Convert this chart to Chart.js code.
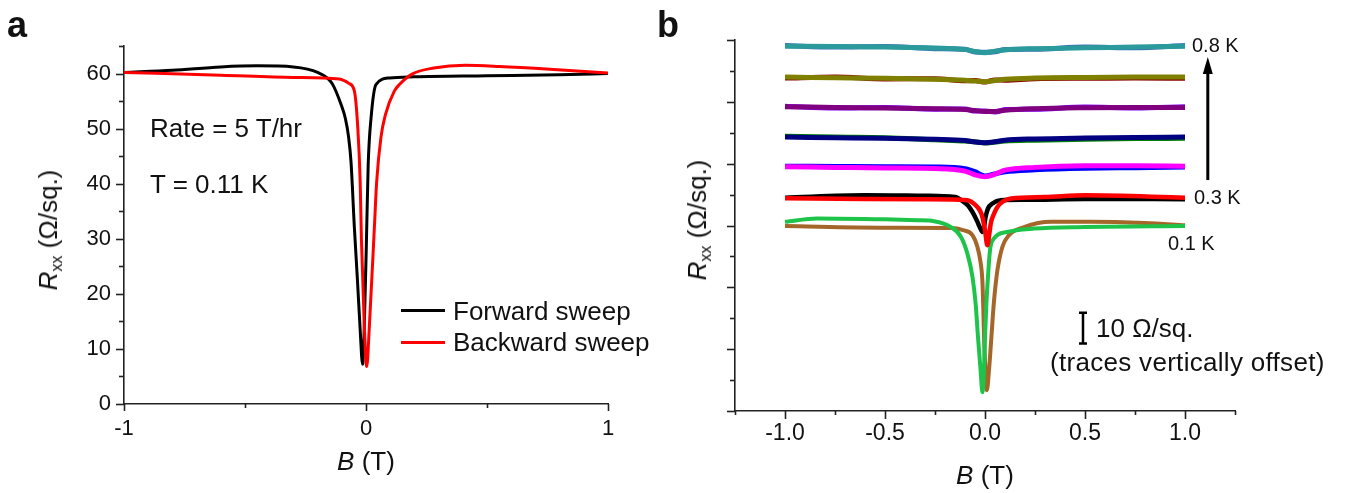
<!DOCTYPE html>
<html>
<head>
<meta charset="utf-8">
<script src="https://cdn.jsdelivr.net/npm/chart.js@4.4.1/dist/chart.umd.min.js"></script>
<style>
  body { margin: 0; background: #fff; }
  #wrap { position: relative; width: 1349px; height: 493px; overflow: hidden; background: #fff;
          font-family: 'Liberation Sans', Arial, sans-serif; color: #111; }
  canvas { position: absolute; top: 0; }
  #chartA { left: 0; }
  #chartB { left: 650px; }
  .t { position: absolute; line-height: 1; white-space: nowrap; z-index: 2; }
  .mid { transform: translateY(-50%); }
  .ctr { transform: translate(-50%, -50%); }
  .rot { transform: translate(-50%, -50%) rotate(-90deg); }
  .panel { font-weight: bold; font-size: 36px; }
  .big { font-size: 26px; }
  .small { font-size: 20px; }
  .sub { font-size: 0.62em; position: relative; top: 0.28em; }
  .swatch { position: absolute; width: 44px; height: 3px; z-index: 2; }
</style>
</head>
<body>
<div id="wrap">
  <canvas id="chartA" width="650" height="493"></canvas>
  <canvas id="chartB" width="699" height="493"></canvas>

  <div class="t panel mid" style="left:7px;top:25px">a</div>
  <div class="t panel mid" style="left:657px;top:25px">b</div>

  <!-- panel a text -->
  <div class="t big mid" style="left:150px;top:128px">Rate = 5 T/hr</div>
  <div class="t big mid" style="left:150px;top:184px">T = 0.11 K</div>
  <div class="swatch" style="left:401px;top:309px;background:#000"></div>
  <div class="swatch" style="left:401px;top:341px;background:#f00"></div>
  <div class="t big mid" style="left:453px;top:311px">Forward sweep</div>
  <div class="t big mid" style="left:453px;top:342px">Backward sweep</div>
  <div class="t big ctr" style="left:366px;top:461px"><i>B</i> (T)</div>
  <div class="t big rot" style="left:48px;top:230px"><i>R</i><span class="sub">xx</span> (Ω/sq.)</div>

  <!-- panel b text -->
  <div class="t small mid" style="left:1192px;top:45px">0.8 K</div>
  <div class="t small mid" style="left:1194px;top:197px">0.3 K</div>
  <div class="t small mid" style="left:1168px;top:243px">0.1 K</div>
  <div class="t big mid" style="left:1096px;top:328px">10 Ω/sq.</div>
  <div class="t big mid" style="left:1050px;top:362px;letter-spacing:0.3px">(traces vertically offset)</div>
  <div class="t big ctr" style="left:985px;top:475px"><i>B</i> (T)</div>
  <div class="t big rot" style="left:697px;top:220px"><i>R</i><span class="sub">xx</span> (Ω/sq.)</div>
</div>

<script>
// ---- panel a: sweep direction at T = 0.11 K ----
const fwdField = [-1, -0.8, -0.6, -0.45, -0.3, -0.2, -0.14, -0.1, -0.085, -0.072, -0.062, -0.048, -0.036,
  -0.025, -0.014, -0.007, 0.002, 0.009, 0.021, 0.041, 0.097, 0.2, 0.5, 0.8, 1];
const fwdRxx = [60.2, 60.6, 61.2, 61.4, 61.2, 60.2, 58.2, 54.0, 51.8, 48.5, 44.0, 32.0, 23.0,
  14.2, 7.2, 14.2, 30.0, 43.4, 52.0, 58.0, 59.2, 59.4, 59.6, 59.8, 60.0];
const bwdField = [-1, -0.6, -0.3, -0.11, -0.07, -0.048, -0.034, -0.024, -0.019, -0.007, 0.003, 0.014,
  0.035, 0.044, 0.062, 0.08, 0.117, 0.138, 0.19, 0.28, 0.41, 0.55, 0.76, 1];
const bwdRxx = [60.2, 59.7, 59.3, 59.0, 58.2, 56.8, 50.2, 40.3, 30.0, 14.2, 6.8, 14.2,
  32.4, 40.3, 48.5, 52.5, 56.8, 58.0, 59.9, 61.0, 61.5, 61.3, 60.8, 60.1];

// ---- panel b: temperature series (offset traces, arbitrary zero) ----
const flatField = [-1, -0.75, -0.5, -0.25, -0.1, -0.05, 0, 0.05, 0.1, 0.25, 0.5, 0.75, 1];
const teal08 = [118.0, 117.9, 117.7, 117.4, 116.9, 116.3, 115.9, 116.4, 116.8, 117.2, 117.5, 117.7, 118.0];
const blue08 = [118.2, 117.7, 117.9, 117.2, 117.0, 116.1, 116.0, 116.2, 116.9, 117.0, 117.7, 117.5, 118.2];
const olive07 = [108.0, 107.8, 107.6, 107.3, 107.0, 106.7, 106.5, 106.9, 107.3, 107.7, 107.9, 108.0, 108.0];
const maroon07 = [107.7, 108.0, 107.4, 107.5, 106.8, 106.9, 106.4, 107.1, 107.0, 107.5, 107.6, 107.7, 107.6];
const purple06 = [98.4, 98.2, 98.0, 97.8, 97.5, 97.2, 96.9, 96.9, 97.3, 97.8, 98.1, 98.2, 98.2];
const violet06 = [98.6, 98.0, 98.2, 97.6, 97.7, 97.0, 97.0, 96.7, 97.5, 97.6, 98.3, 98.0, 98.4];
const navy05 = [88.6, 88.4, 88.2, 87.9, 87.5, 87.0, 86.8, 87.1, 87.6, 88.0, 88.3, 88.5, 88.6];
const green05 = [88.9, 88.6, 88.4, 87.7, 87.3, 87.1, 86.7, 87.0, 87.3, 87.6, 87.9, 88.1, 88.2];
const magenta04 = [79.0, 78.8, 78.6, 78.4, 77.6, 76.4, 75.8, 76.6, 77.9, 78.8, 79.3, 79.3, 79.2];
const blue04 = [79.2, 79.1, 79.0, 78.9, 78.4, 77.4, 76.0, 76.7, 77.4, 78.0, 78.5, 78.7, 78.9];

const black03Field = [-1, -0.6, -0.3, -0.15, -0.11, -0.085, -0.063, -0.04, -0.025, -0.013, -0.005, 0.003,
  0.015, 0.037, 0.078, 0.2, 0.5, 1];
const black03 = [69.0, 69.8, 69.6, 69.2, 67.8, 66.5, 64.4, 61.5, 59.3, 57.9, 59.5, 62.8,
  65.5, 67.1, 68.2, 68.3, 68.6, 68.5];
const red03Field = [-1, -0.6, -0.3, -0.088, -0.047, -0.025, -0.013, 0, 0.012, 0.022, 0.029, 0.045,
  0.062, 0.09, 0.13, 0.3, 0.5, 1];
const red03 = [68.8, 68.6, 68.5, 68.2, 66.6, 64.8, 62.8, 58.5, 53.6, 57.5, 60.7, 63.8,
  66.0, 67.8, 68.7, 69.2, 69.8, 69.0];

const green01Field = [-1, -0.84, -0.5, -0.34, -0.255, -0.17, -0.12, -0.088, -0.063, -0.047, -0.035, -0.022,
  -0.013, -0.005, 0, 0.007, 0.015, 0.025, 0.045, 0.11, 0.245, 0.5, 1];
const green01 = [61.2, 62.3, 62.0, 61.7, 61.4, 59.5, 56.3, 50.9, 43.5, 34.8, 23.9, 13.2,
  6.1, 13.2, 23.9, 34.8, 43.5, 52.0, 55.8, 57.9, 59.0, 59.5, 59.8];
const brown01Field = [-1, -0.5, -0.17, -0.11, -0.063, -0.038, -0.022, -0.013, -0.008, -0.004, 0.003, 0.009,
  0.02, 0.032, 0.044, 0.062, 0.087, 0.12, 0.195, 0.33, 0.53, 0.8, 1];
const brown01 = [59.8, 59.3, 59.2, 58.5, 56.9, 53.1, 48.0, 42.0, 32.0, 22.0, 12.5, 6.7,
  13.2, 23.9, 34.8, 45.5, 53.1, 56.9, 59.5, 61.2, 61.2, 60.8, 60.1];

const FONT = "'Liberation Sans', Arial, sans-serif";
Chart.defaults.font.family = FONT;
Chart.defaults.color = '#111';

const pts = (xs, ys) => xs.map((x, i) => ({ x, y: ys[i] }));

// draws outward major/minor tick marks from the scales' own ticks
const tickMarks = {
  id: 'tickMarks',
  afterDraw(chart, args, opts) {
    const { ctx } = chart;
    ctx.save();
    ctx.strokeStyle = opts.color;
    ctx.lineWidth = opts.width;
    ['x', 'y'].forEach(id => {
      const scale = chart.scales[id];
      const o = opts[id];
      scale.ticks.forEach(t => {
        const r = t.value / o.major;
        const len = Math.abs(r - Math.round(r)) < 1e-6 ? o.majorLen : o.minorLen;
        const p = Math.round(scale.getPixelForValue(t.value)) + 0.5;
        ctx.beginPath();
        if (id === 'x') {
          ctx.moveTo(p, scale.top);
          ctx.lineTo(p, scale.top + len);
        } else {
          ctx.moveTo(scale.right, p);
          ctx.lineTo(scale.right - len, p);
        }
        ctx.stroke();
      });
    });
    ctx.restore();
  }
};

// arrow and 10 Ω scale bar for panel b
const markers = {
  id: 'markers',
  afterDatasetsDraw(chart, args, opts) {
    if (!opts.arrow) return;
    const { ctx } = chart;
    const xs = chart.scales.x;
    const ys = chart.scales.y;
    ctx.save();
    ctx.strokeStyle = '#000';
    ctx.fillStyle = '#000';
    // arrow
    const ax = xs.getPixelForValue(opts.arrow.x);
    const a0 = ys.getPixelForValue(opts.arrow.from);
    const a1 = ys.getPixelForValue(opts.arrow.to);
    ctx.lineWidth = 3;
    ctx.beginPath();
    ctx.moveTo(ax, a0);
    ctx.lineTo(ax, a1 + 14);
    ctx.stroke();
    ctx.beginPath();
    ctx.moveTo(ax, a1);
    ctx.lineTo(ax - 5, a1 + 17);
    ctx.lineTo(ax + 5, a1 + 17);
    ctx.closePath();
    ctx.fill();
    // scale bar
    const bx = xs.getPixelForValue(opts.bar.x);
    const b0 = ys.getPixelForValue(opts.bar.from);
    const b1 = ys.getPixelForValue(opts.bar.from + opts.bar.len);
    ctx.lineWidth = 2.5;
    ctx.beginPath();
    ctx.moveTo(bx, b0);
    ctx.lineTo(bx, b1);
    ctx.moveTo(bx - 4, b0);
    ctx.lineTo(bx + 4, b0);
    ctx.moveTo(bx - 4, b1);
    ctx.lineTo(bx + 4, b1);
    ctx.stroke();
    ctx.restore();
  }
};

const line = (data, color, width) => ({
  data,
  borderColor: color,
  borderWidth: width,
  pointRadius: 0,
  cubicInterpolationMode: 'monotone',
  fill: false
});

const axisBase = (min, max, step, cb, pad, size) => ({
  type: 'linear',
  min,
  max,
  grid: { display: false, drawTicks: false },
  border: { display: true, color: '#222', width: 1.6 },
  ticks: { stepSize: step, autoSkip: false, maxRotation: 0, padding: pad, callback: cb,
    font: { size }, color: '#111' }
});

// panel a
const axA = axisBase(-1, 1, 0.5, v => (Number.isInteger(v) ? String(v) : ''), 12, 22);
axA.afterFit = s => { s.height = 89; };
const ayA = axisBase(0, 65, 5, v => (v % 10 === 0 ? String(v) : ''), 13, 22);
ayA.afterFit = s => { s.width = 124; };

new Chart(document.getElementById('chartA'), {
  type: 'line',
  data: {
    datasets: [
      line(pts(bwdField, bwdRxx), '#ff0000', 3),
      line(pts(fwdField, fwdRxx), '#000000', 3)
    ]
  },
  options: {
    responsive: false,
    animation: false,
    layout: { padding: { left: 0, right: 42, top: 46, bottom: 0 } },
    scales: { x: axA, y: ayA },
    plugins: {
      legend: { display: false },
      tooltip: { enabled: false },
      tickMarks: {
        color: '#222', width: 1.6,
        x: { major: 1, majorLen: 7, minorLen: 4 },
        y: { major: 10, majorLen: 8, minorLen: 5 }
      }
    }
  },
  plugins: [tickMarks]
});

// panel b
const axB = axisBase(-1.25, 1.25, 0.25, v => {
  const r = v * 2;
  return Math.abs(r - Math.round(r)) < 1e-6 && Math.abs(v) <= 1 ? v.toFixed(1) : '';
}, 9, 23);
axB.afterFit = s => { s.height = 82; };
const ayB = axisBase(0, 120, 10, () => '', 0, 22);
ayB.ticks.display = false;
ayB.afterFit = s => { s.width = 85; };

new Chart(document.getElementById('chartB'), {
  type: 'line',
  data: {
    datasets: [
      line(pts(flatField, teal08), '#2a9a9c', 5),
      line(pts(flatField, blue08), '#3f6cb8', 5),
      line(pts(flatField, olive07), '#808000', 5),
      line(pts(flatField, maroon07), '#8b0000', 5),
      line(pts(flatField, purple06), '#800080', 5),
      line(pts(flatField, violet06), '#8000ff', 5),
      line(pts(flatField, navy05), '#000080', 5),
      line(pts(flatField, green05), '#008000', 5),
      line(pts(flatField, magenta04), '#ff00ff', 5),
      line(pts(flatField, blue04), '#0000ff', 5),
      line(pts(red03Field, red03), '#ff0000', 4.5),
      line(pts(black03Field, black03), '#000000', 4.5),
      line(pts(green01Field, green01), '#1ec449', 4),
      line(pts(brown01Field, brown01), '#a5662a', 4)
    ]
  },
  options: {
    responsive: false,
    animation: false,
    layout: { padding: { left: 0, right: 114, top: 40, bottom: 0 } },
    scales: { x: axB, y: ayB },
    plugins: {
      legend: { display: false },
      tooltip: { enabled: false },
      tickMarks: {
        color: '#222', width: 1.6,
        x: { major: 0.5, majorLen: 8, minorLen: 4 },
        y: { major: 20, majorLen: 8, minorLen: 5 }
      },
      markers: {
        arrow: { x: 1.114, from: 74.7, to: 114.5 },
        bar: { x: 0.49, from: 21.8, len: 10 }
      }
    }
  },
  plugins: [tickMarks, markers]
});
</script>
</body>
</html>
